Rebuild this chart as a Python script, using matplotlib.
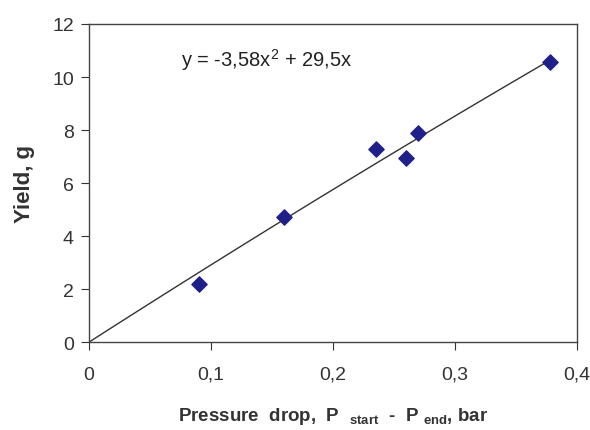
import matplotlib.pyplot as plt
import numpy as np

plt.rcParams["font.family"] = ["Liberation Sans", "DejaVu Sans"]
plt.rcParams["mathtext.fontset"] = "custom"
plt.rcParams["mathtext.rm"] = "Liberation Sans"
plt.rcParams["mathtext.bf"] = "Liberation Sans:bold"

# Measured points
pressure_drop = [0.09, 0.16, 0.235, 0.26, 0.27, 0.378]
yield_g = [2.2, 4.7, 7.3, 6.95, 7.9, 10.55]

# Trendline coefficients shown on the chart (a*x^2 + b*x)
coef_a = -3.58
coef_b = 29.5

x_ticks = [0, 0.1, 0.2, 0.3, 0.4]
x_ticklabels = ["0", "0,1", "0,2", "0,3", "0,4"]
y_ticks = [0, 2, 4, 6, 8, 10, 12]


def main():
    fig = plt.figure(figsize=(5.9, 4.31), dpi=100)
    ax = fig.add_axes([0.151, 0.204, 0.827, 0.738])

    xs = np.linspace(0, max(pressure_drop), 100)
    ax.plot(xs, coef_a * xs**2 + coef_b * xs, color="#333333", lw=1.0)
    ax.scatter(pressure_drop, yield_g, marker="D", s=60, color="#1f1f8a", zorder=3)

    ax.set_xlim(0, 0.4)
    ax.set_ylim(0, 12)
    ax.set_xticks(x_ticks)
    ax.set_xticklabels(x_ticklabels)
    ax.set_yticks(y_ticks)
    ax.tick_params(direction="out", length=6, labelsize=14, colors="#333333")
    ax.tick_params(axis="x", pad=11)
    ax.tick_params(axis="y", pad=5)
    for sp in ax.spines.values():
        sp.set_color("#444444")
        sp.set_linewidth(1.0)

    ax.text(0.0755, 10.68, "y = -3,58x$^{2}$ + 29,5x", fontsize=14.5,
            va="center", ha="left", color="#222222")

    ax.set_ylabel("Yield, g", fontsize=16, fontweight="bold", labelpad=12,
                  color="#333333")
    ax.set_xlabel(r"Pressure  drop,  P  $_{\mathbf{start}}$  -  P $_{\mathbf{end}}$, bar",
                  fontsize=13.5, fontweight="bold", labelpad=16, color="#333333")

    fig.savefig("out.png", dpi=100)


if __name__ == "__main__":
    main()
